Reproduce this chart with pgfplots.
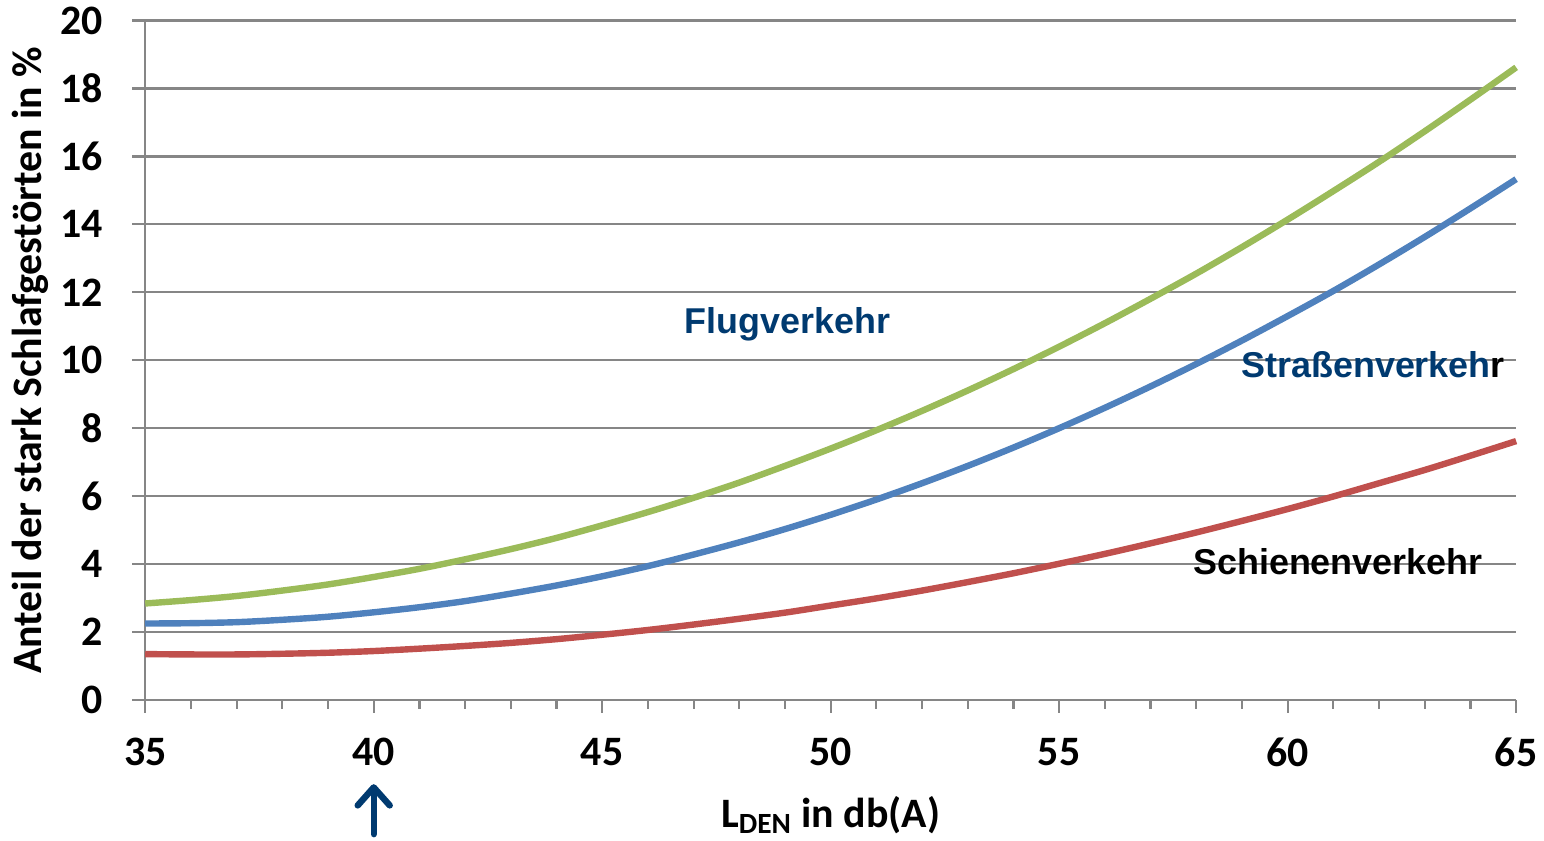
\documentclass[border=0pt]{standalone}
\usepackage{pgfplots}
\pgfplotsset{compat=1.18}
\usepackage{fontspec}
\setmainfont{Carlito}
\newfontfamily\arial{Liberation Sans}
\usetikzlibrary{arrows.meta}
\definecolor{gridgray}{HTML}{868686}
\definecolor{cgreen}{HTML}{9BBB59}
\definecolor{cblue}{HTML}{4F81BD}
\definecolor{cred}{HTML}{C0504D}
\definecolor{txtblue}{HTML}{003A70}
\begin{document}
\begin{tikzpicture}
\begin{axis}[
  scale only axis,
  width=685bp, height=339.5bp,
  xmin=35, xmax=65, ymin=0, ymax=20,
  axis lines=left,
  axis line style={-, gridgray, line width=1.1bp},
  xtick={35,40,...,65},
  minor xtick={36,37,38,39,41,42,43,44,46,47,48,49,51,52,53,54,56,57,58,59,61,62,63,64},
  ytick={0,2,...,20},
  ymajorgrids,
  grid style={gridgray, line width=1.1bp},
  tick align=outside,
  tick style={gridgray, line width=1.1bp},
  major tick length=6.5bp,
  minor tick length=4.5bp,
  /pgf/number format/assume math mode=true,
  ticklabel style={font=\fontsize{21}{25}\selectfont\bfseries},
  xticklabel style={yshift=-9bp},
  yticklabel style={xshift=-11bp},
  xlabel={L\textsubscript{DEN} in db(A)},
  ylabel={Anteil der stark Schlafgestörten in \%},
  label style={font=\fontsize{21}{25}\selectfont\bfseries},
  xlabel style={yshift=-8bp},
  ylabel style={inner ysep=6.3bp, yshift=-4bp},
  clip=false,
]
\addplot[cgreen, line width=3.2bp, smooth] coordinates {
(35,2.84)(36,2.94)(37,3.06)(38,3.22)(39,3.40)(40,3.62)(41,3.86)(42,4.14)(43,4.44)(44,4.77)
(45,5.14)(46,5.53)(47,5.95)(48,6.40)(49,6.89)(50,7.40)(51,7.94)(52,8.51)(53,9.11)(54,9.74)
(55,10.40)(56,11.09)(57,11.81)(58,12.55)(59,13.33)(60,14.14)(61,14.98)(62,15.84)(63,16.74)(64,17.67)(65,18.62)};
\addplot[cblue, line width=3.2bp, smooth] coordinates {
(35,2.25)(36,2.26)(37,2.29)(38,2.36)(39,2.45)(40,2.58)(41,2.73)(42,2.91)(43,3.13)(44,3.37)
(45,3.64)(46,3.94)(47,4.28)(48,4.64)(49,5.03)(50,5.45)(51,5.90)(52,6.38)(53,6.89)(54,7.43)
(55,8.00)(56,8.60)(57,9.23)(58,9.89)(59,10.58)(60,11.30)(61,12.04)(62,12.82)(63,13.63)(64,14.47)(65,15.33)};
\addplot[cred, line width=3.2bp, smooth] coordinates {
(35,1.35)(36,1.34)(37,1.34)(38,1.36)(39,1.39)(40,1.44)(41,1.51)(42,1.59)(43,1.68)(44,1.79)
(45,1.92)(46,2.06)(47,2.22)(48,2.39)(49,2.57)(50,2.78)(51,2.99)(52,3.22)(53,3.47)(54,3.73)
(55,4.01)(56,4.30)(57,4.61)(58,4.93)(59,5.27)(60,5.62)(61,5.99)(62,6.38)(63,6.77)(64,7.19)(65,7.62)};
\node[font=\arial\fontsize{18}{22}\selectfont\bfseries, text=txtblue] at (axis cs:49.05,11.05) {Flugverkehr};
\node[font=\arial\fontsize{18}{22}\selectfont\bfseries, text=txtblue] at (axis cs:61.87,9.87) {Straßenverkeh{\color{black}r}};
\node[font=\arial\fontsize{18}{22}\selectfont\bfseries, text=black] at (axis cs:61.1,4.06) {Schienenverkehr};
\draw[txtblue, line width=3.2bp, line cap=round, -{Straight Barb[round, length=9bp, width=16bp]}] (axis cs:40,-3.95) -- (axis cs:40,-2.48);
\end{axis}
\end{tikzpicture}
\end{document}
